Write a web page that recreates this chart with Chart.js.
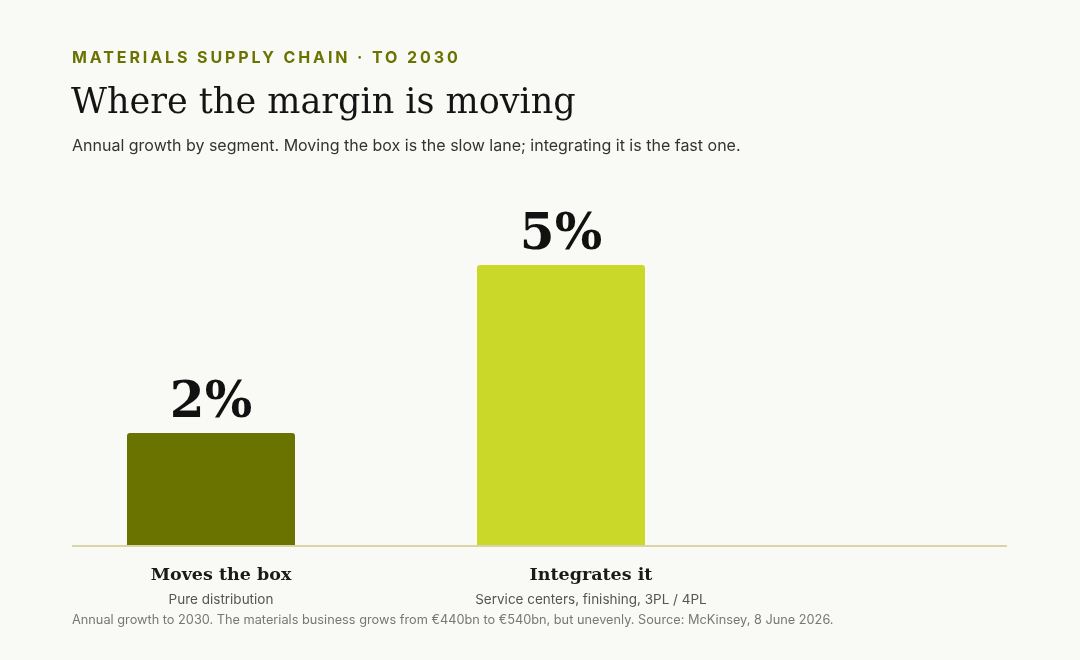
<!DOCTYPE html>
<html>
<head>
<meta charset="utf-8">
<script src="https://cdn.jsdelivr.net/npm/chart.js@4.4.1/dist/chart.umd.min.js"></script>
<style>
  html, body { margin: 0; padding: 0; }
  body { width: 1080px; height: 660px; background: #f9f9f5; position: relative; overflow: hidden; }
  #wrap { position: absolute; left: 0; top: 0; width: 1080px; height: 660px; }
  .eyebrow { position: absolute; left: 72px; top: 47px; font-family: Inter, "Liberation Sans", sans-serif; font-weight: 700; font-size: 16px; letter-spacing: 2.9px; color: #6b7300; white-space: nowrap; }
  .title { position: absolute; left: 71px; top: 81px; font-family: "DejaVu Serif", serif; font-size: 35px; color: #141414; white-space: nowrap; letter-spacing: 0; }
  .sub { position: absolute; left: 72px; top: 135px; font-family: Inter, "Liberation Sans", sans-serif; font-size: 16px; color: #333; white-space: nowrap; }
  .foot { position: absolute; left: 72px; top: 612px; font-family: Inter, "Liberation Sans", sans-serif; font-size: 12.75px; color: #777; white-space: nowrap; }
</style>
</head>
<body>
<div id="wrap"><canvas id="c" width="1080" height="660"></canvas></div>
<div class="eyebrow">MATERIALS SUPPLY CHAIN · TO 2030</div>
<div class="title">Where the margin is moving</div>
<div class="sub">Annual growth by segment. Moving the box is the slow lane; integrating it is the fast one.</div>
<div class="foot">Annual growth to 2030. The materials business grows from €440bn to €540bn, but unevenly. Source: McKinsey, 8 June 2026.</div>
<script>
const categories = ['Moves the box', 'Integrates it'];
const descriptions = ['Pure distribution', 'Service centers, finishing, 3PL / 4PL'];
const growth = [2, 5];
const valueLabels = ['2%', '5%'];
const barColors = ['#6a7200', '#cad82a'];

const labelPlugin = {
  id: 'labels',
  afterDatasetsDraw(chart) {
    const ctx = chart.ctx;
    const meta = chart.getDatasetMeta(0);
    const xl = chart.scales.xl, y = chart.scales.y;
    ctx.save();
    // baseline
    const y0 = y.getPixelForValue(0);
    ctx.strokeStyle = '#d9d5a6';
    ctx.lineWidth = 2;
    ctx.beginPath();
    ctx.moveTo(72, y0 + 1);
    ctx.lineTo(1007, y0 + 1);
    ctx.stroke();
    ctx.textAlign = 'center';
    meta.data.forEach((bar, i) => {
      ctx.fillStyle = '#111';
      ctx.font = 'bold 50px "DejaVu Serif", serif';
      ctx.textBaseline = 'alphabetic';
      ctx.fillText(valueLabels[i], bar.x, bar.y - 16);
      const cx = xl.getPixelForValue(i);
      ctx.font = 'bold 17.5px "DejaVu Serif", serif';
      ctx.fillStyle = '#1a1a1a';
      ctx.textBaseline = 'middle';
      ctx.fillText(categories[i], cx, y0 + 30);
      ctx.font = '13.5px Inter, "Liberation Sans", sans-serif';
      ctx.fillStyle = '#555';
      ctx.fillText(descriptions[i], cx, y0 + 55);
    });
    ctx.restore();
  }
};

new Chart(document.getElementById('c'), {
  type: 'bar',
  data: {
    labels: categories,
    datasets: [{
      data: growth,
      backgroundColor: barColors,
      borderRadius: { topLeft: 3, topRight: 3 },
      borderSkipped: 'bottom',
      categoryPercentage: 1,
      barPercentage: 0.48
    }]
  },
  options: {
    responsive: false,
    animation: false,
    layout: { padding: { left: 36, right: 344, top: 181, bottom: 115 } },
    plugins: { legend: { display: false }, tooltip: { enabled: false } },
    scales: {
      x: { display: false },
      xl: { type: 'linear', display: false, offset: false, min: -0.5, max: 1.392 },
      y: { display: false, min: 0, max: 6.5 }
    }
  },
  plugins: [labelPlugin]
});
</script>
</body>
</html>
